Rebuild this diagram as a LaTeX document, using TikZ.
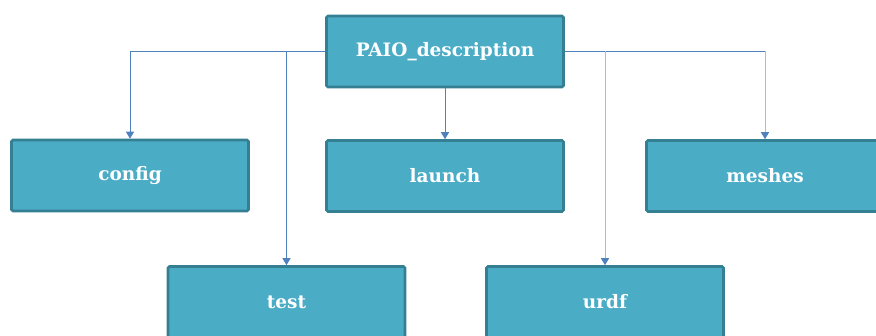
\documentclass[tikz,border=0pt]{standalone}
\usepackage{fontspec}
\setmainfont{DejaVu Serif}
\usepackage{tikz}
\usetikzlibrary{positioning,arrows.meta}
\definecolor{boxfill}{HTML}{4BACC6}
\definecolor{boxline}{HTML}{357F93}
\definecolor{wire}{HTML}{4F81BD}
\definecolor{wirepale}{HTML}{A2BEE0}
\tikzset{
  dir/.style={draw=boxline, fill=boxfill, line width=2.6pt, rounded corners=1.5pt,
              minimum width=237pt, minimum height=71pt, inner sep=0pt,
              text=white, font=\fontsize{18.5}{20}\selectfont\bfseries},
  ar/.style={-{Triangle[length=7pt,width=8pt]}, line width=1pt, color=wire},
  arpale/.style={-{Triangle[length=7pt,width=8pt,color=wire]}, line width=1pt, color=wirepale},
}

\begin{document}
\begin{tikzpicture}[x=1pt, y=-1pt]
\useasboundingbox (0,0) rectangle (876,336);

\node[dir] (root)   at (445,51.5)  {PAIO\_description};
\node[dir] (config) at (130,175.5) {config};
\node[dir] (launch) at (445,176)   {launch};
\node[dir] (meshes) at (765,176)   {meshes};
\node[dir] (test)   at (286.5,302) {test};
\node[dir] (urdf)   at (605,302)   {urdf};

% left branch
\draw[ar] (root.west) -| (config.north);
\draw[ar] (root.west -| test.north) -- (test.north);
\draw[ar] (root.south) -- (launch.north);
% right branch
\draw[wire, line width=1pt] (root.east) -- (root.east -| meshes.north);
\draw[arpale] (root.east -| meshes.north) -- (meshes.north);
\draw[arpale] (root.east -| urdf.north) -- (urdf.north);

\end{tikzpicture}
\end{document}
